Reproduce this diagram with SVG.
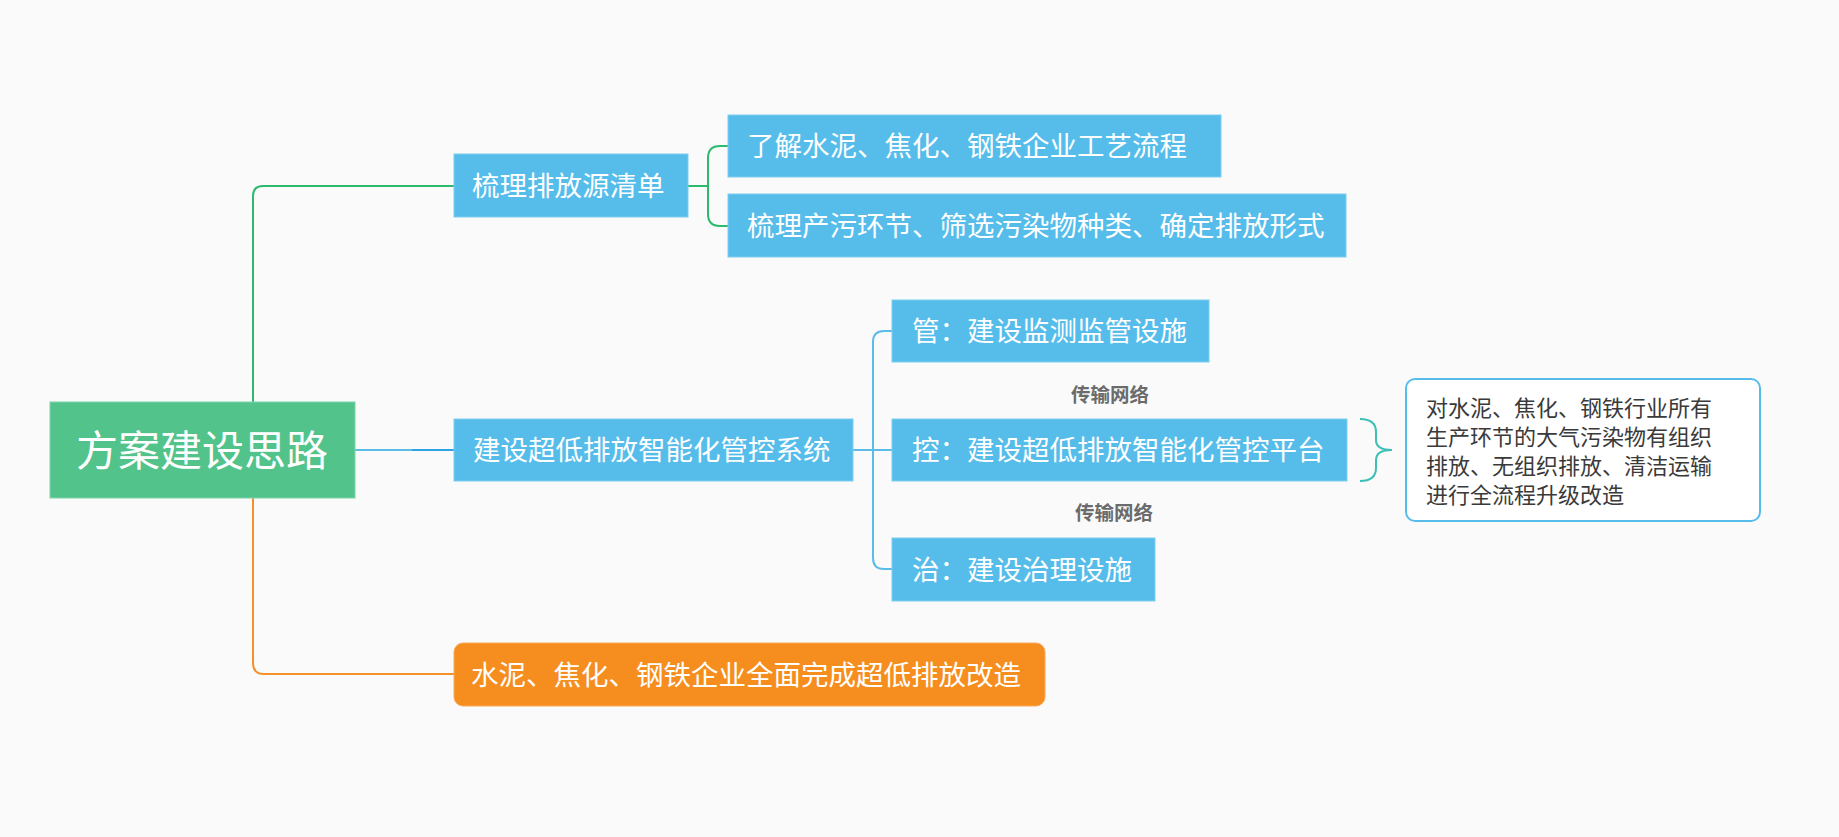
<svg xmlns="http://www.w3.org/2000/svg" width="1839" height="837" viewBox="0 0 1839 837">
<style>
.t{font-family:"Noto Sans CJK SC","Noto Sans",sans-serif;fill:#ffffff;font-size:27.5px}
.root{font-size:42px}
.lbl{font-family:"Noto Sans CJK SC","Noto Sans",sans-serif;fill:#6b6b6b;font-size:19.5px;font-weight:bold}
.note{font-family:"Noto Sans CJK SC","Noto Sans",sans-serif;fill:#3a3a3a;font-size:22px}
.blue{fill:#56bdeb;stroke:#7ccdf0;stroke-width:1}
.ln{fill:none;stroke-width:2}
</style>
<rect x="0" y="0" width="1839" height="837" fill="#fafafa"/>
<g id="connectors">
<path class="ln" stroke="#2dba6c" d="M253,402 V196 Q253,186 263,186 H454"/>
<path class="ln" stroke="#2dba6c" d="M688,186 H708 M728,146 H720 Q708,146 708,158 V214 Q708,226 720,226 H728"/>
<path class="ln" stroke="#5bbce8" d="M355,450 H412"/>
<path class="ln" stroke="#2ea3e6" d="M412,450 H454"/>
<path class="ln" stroke="#5bbce8" d="M853,450 H892 M892,331 H884 Q873,331 873,342 V558 Q873,569 884,569 H892"/>
<path class="ln" stroke="#f5902a" d="M253,498 V663 Q253,674 264,674 H454"/>
<path class="ln" stroke="#3cbfb5" d="M1360,419 Q1376,419 1376,432 V440 Q1376,450 1392,450 Q1376,450 1376,460 V468 Q1376,481 1360,481"/>
</g>
<g id="root">
<rect x="50" y="402" width="305" height="96" fill="#52c38b" stroke="#7fd3a9" stroke-width="1"/>
<text class="t root" x="202" y="466" text-anchor="middle">方案建设思路</text>
</g>
<g id="n-qingdan">
<rect class="blue" x="454" y="154" width="234" height="63"/>
<text class="t" x="472" y="195.5">梳理排放源清单</text>
</g>
<g id="n-liaojie">
<rect class="blue" x="728" y="115" width="493" height="62"/>
<text class="t" x="747" y="156">了解水泥、焦化、钢铁企业工艺流程</text>
</g>
<g id="n-shuli">
<rect class="blue" x="728" y="194" width="618" height="63"/>
<text class="t" x="747" y="235.5">梳理产污环节、筛选污染物种类、确定排放形式</text>
</g>
<g id="n-xitong">
<rect class="blue" x="454" y="419" width="399" height="62"/>
<text class="t" x="473" y="460">建设超低排放智能化管控系统</text>
</g>
<g id="n-guan">
<rect class="blue" x="892" y="300" width="317" height="62"/>
<text class="t" x="912" y="340.5">管：建设监测监管设施</text>
</g>
<g id="n-kong">
<rect class="blue" x="892" y="419" width="455" height="62"/>
<text class="t" x="912" y="460">控：建设超低排放智能化管控平台</text>
</g>
<g id="n-zhi">
<rect class="blue" x="892" y="538" width="263" height="63"/>
<text class="t" x="912" y="579.5">治：建设治理设施</text>
</g>
<g id="label-1">
<text class="lbl" x="1071" y="402">传输网络</text>
</g>
<g id="label-2">
<text class="lbl" x="1075" y="519.5">传输网络</text>
</g>
<g id="n-note">
<rect x="1406" y="379" width="354" height="142" rx="9" ry="9" fill="#ffffff" stroke="#56bdeb" stroke-width="2"/>
<text class="note" x="1426" y="416">对水泥、焦化、钢铁行业所有</text>
<text class="note" x="1426" y="445">生产环节的大气污染物有组织</text>
<text class="note" x="1426" y="474">排放、无组织排放、清洁运输</text>
<text class="note" x="1426" y="503">进行全流程升级改造</text>
</g>
<g id="n-gaizao">
<rect x="454" y="643" width="591" height="63" rx="9" ry="9" fill="#f68e1f" stroke="#f9a95a" stroke-width="1"/>
<text class="t" x="471" y="685">水泥、焦化、钢铁企业全面完成超低排放改造</text>
</g>
</svg>
